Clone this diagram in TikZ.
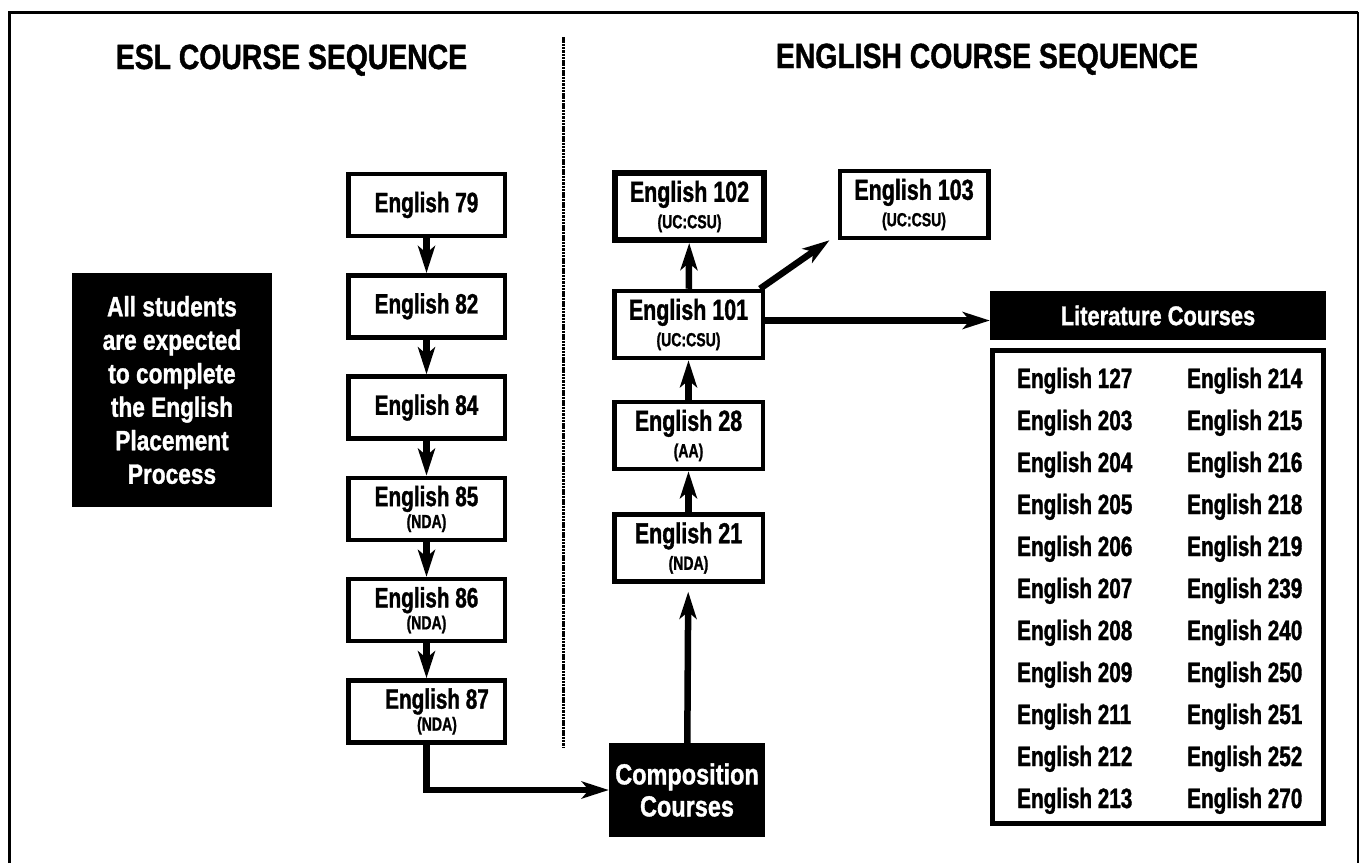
\documentclass[tikz,border=0pt]{standalone}
\usepackage{fontspec}
\setmainfont{Liberation Sans}[FakeStretch=0.74, FakeBold=1.2]
\newfontfamily\widefont{Liberation Sans}[FakeStretch=0.81, FakeBold=1.2]
\usepackage{tikz}
\usetikzlibrary{arrows.meta}

\newcommand{\subtxt}[1]{{\fontsize{19}{19}\selectfont #1}}

\tikzset{
  eslbox/.style={draw, line width=4.5pt, minimum width=156.5pt, minimum height=62pt, inner sep=0pt, align=center, font=\bfseries\fontsize{28}{30}\selectfont},
  engbox/.style={draw, line width=4.5pt, minimum width=148.5pt, minimum height=67pt, inner sep=0pt, align=center, font=\bfseries\fontsize{29}{30}\selectfont},
  blackbox/.style={fill=black, text=white, inner sep=0pt, align=center},
  arr/.style={line width=6.5pt, -{Stealth[length=27pt, width=17pt, inset=7pt]}},
  item/.style={anchor=base west, inner sep=0pt, font=\bfseries\fontsize{28}{30}\selectfont},
  heading/.style={anchor=base, inner sep=0pt, font=\widefont\bfseries\fontsize{35}{37}\selectfont}
}

\begin{document}
\begin{tikzpicture}[x=1pt, y=-1pt]
    \useasboundingbox (0,0) rectangle (1360,863);

    % Frame
    \draw[line width=3pt] (9,863) -- (9,12) -- (1358,12);
    \draw[line width=2pt] (1358,12) -- (1358,863);

    % Headings
    \node[heading] (eslhead) at (291.5,69) {ESL COURSE SEQUENCE};
    \node[heading] (enghead) at (987,68) {ENGLISH COURSE SEQUENCE};

    % Divider
    \coordinate (divtop) at (563,37);
    \coordinate (divbot) at (563,748);
    \draw[line width=3pt, dash pattern=on 2.5pt off 0.8pt] (divtop) -- (divbot);

    % Placement note
    \node[blackbox, minimum width=200pt, minimum height=234pt, font=\widefont\bfseries\fontsize{28}{33.5}\selectfont] (intro) at (172,390)
        {All students\\are expected\\to complete\\the English\\Placement\\Process};

    % ESL sequence
    \node[eslbox] (E79) at (426.5,205) {English 79};
    \node[eslbox] (E82) at (426.5,306.3) {English 82};
    \node[eslbox] (E84) at (426.5,407.6) {English 84};
    \node[eslbox] (E85) at (426.5,508.9) {English 85\\[-8pt]\subtxt{(NDA)}};
    \node[eslbox] (E86) at (426.5,610.2) {English 86\\[-8pt]\subtxt{(NDA)}};
    \node[eslbox] (E87) at (426.5,711.5) {\hspace*{21pt}English 87\\[-8pt]\hspace*{21pt}\subtxt{(NDA)}};

    % English sequence
    \node[engbox, line width=6pt] (E102) at (689.5,206.5) {English 102\\[-3.5pt]\subtxt{(UC:CSU)}};
    \node[engbox] (E103) at (914,204.5) {English 103\\[-3.5pt]\subtxt{(UC:CSU)}};
    \node[engbox] (E101) at (688.5,324.5) {English 101\\[-3.5pt]\subtxt{(UC:CSU)}};
    \node[engbox] (E28) at (688.5,435.5) {English 28\\[-3.5pt]\subtxt{(AA)}};
    \node[engbox] (E21) at (688.5,548) {English 21\\[-3.5pt]\subtxt{(NDA)}};
    \node[blackbox, minimum width=156pt, minimum height=94pt, font=\widefont\bfseries\fontsize{29}{32}\selectfont] (comp) at (687,790)
        {Composition\\Courses};

    % Literature
    \node[blackbox, minimum width=336pt, minimum height=49pt, font=\widefont\bfseries\fontsize{27}{30}\selectfont] (lit) at (1158,315.5) {Literature Courses};
    \node[draw, line width=5pt, minimum width=331pt, minimum height=473pt] (litlist) at (1158,587) {};
    \foreach \a/\b [count=\i] in {127/214,203/215,204/216,205/218,206/219,207/239,208/240,209/250,211/251,212/252,213/270} {
        \node[item] (la\i) at (1017,346+42*\i) {English \a};
        \node[item] (lb\i) at (1187,346+42*\i) {English \b};
    }

    % Connectors
    \foreach \a/\b in {E79/E82,E82/E84,E84/E85,E85/E86,E86/E87}
        \draw[arr] (\a) -- (\b);
    \draw[arr] (E87.south) |- (comp.west);
    \draw[arr, shorten >=8pt] (comp) -- (E21);
    \draw[arr] (E21) -- (E28);
    \draw[arr] (E28) -- (E101);
    \draw[arr] (E101) -- (E102);
    \draw[arr] ([xshift=-5pt]E101.north east) -- ([xshift=-8pt]E103.south west);
    \draw[arr] ([yshift=4pt]E101.east) -- ([yshift=4pt]E101.east -| lit.west);
\end{tikzpicture}
\end{document}
